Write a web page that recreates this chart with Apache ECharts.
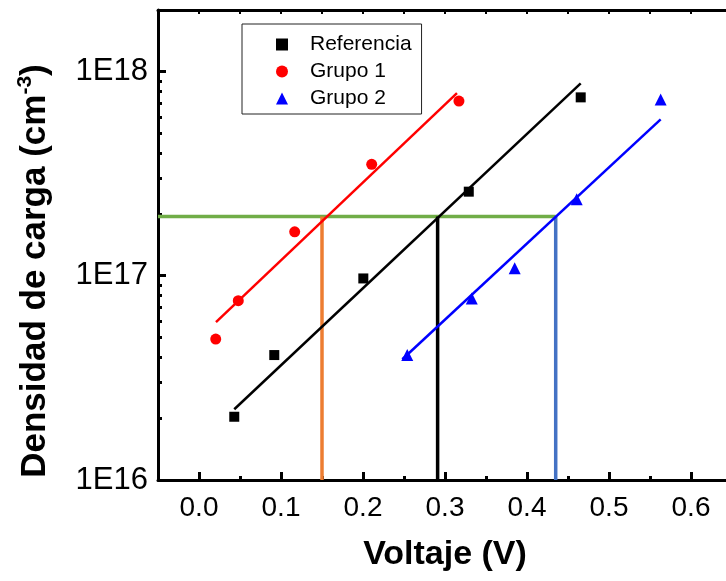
<!DOCTYPE html>
<html>
<head>
<meta charset="utf-8">
<script src="https://cdn.jsdelivr.net/npm/echarts@6/dist/echarts.min.js"></script>
<style>
  html, body { margin: 0; padding: 0; background: #fff; }
  #chart { width: 726px; height: 581px; }
</style>
</head>
<body>
<div id="chart"></div>
<script>
// datos
const refV = [0.043, 0.0918, 0.2004, 0.329, 0.4655]
const refN = [2.04e16, 4.09e16, 9.7e16, 2.58e17, 7.47e17]
const g1V = [0.0204, 0.0479, 0.1167, 0.2106, 0.317]
const g1N = [4.9e16, 7.55e16, 1.64e17, 3.51e17, 7.16e17]
const g2V = [0.254, 0.3326, 0.385, 0.4606, 0.563]
const g2N = [4.09e16, 7.74e16, 1.087e17, 2.37e17, 7.3e17]

// ajustes lineales (extremos)
const fitRefV = [0.043, 0.4655]
const fitRefN = [2.22e16, 8.75e17]
const fitG1V = [0.0207, 0.3146]
const fitG1N = [5.93e16, 7.83e17]
const fitG2V = [0.248, 0.563]
const fitG2N = [3.9e16, 5.83e17]

// nivel de referencia y voltajes de corte
const nivel = 1.95e17
const corteV = [0.15, 0.291, 0.435]
const corteColor = ['#ED7D31', '#000000', '#4472C4']

const xMajor = [0, 0.1, 0.2, 0.3, 0.4, 0.5, 0.6]
const xMinor = [0.05, 0.15, 0.25, 0.35, 0.45, 0.55, 0.65]
const xTop = [0, 0.05, 0.1, 0.15, 0.2, 0.25, 0.3, 0.35, 0.4, 0.45, 0.5, 0.55, 0.6]
const yMajor = [1e16, 1e17, 1e18]
const yMinor = [2e16, 3e16, 4e16, 5e16, 6e16, 7e16, 8e16, 9e16,
  2e17, 3e17, 4e17, 5e17, 6e17, 7e17, 8e17, 9e17]

const font = 'Liberation Sans, Arial, sans-serif'
const zip = (a, b) => a.map((v, i) => [v, b[i]])

const chart = echarts.init(document.getElementById('chart'), null, { renderer: 'canvas' })

const xBase = { type: 'value', min: -0.05, max: 0.65, splitLine: { show: false } }
const yBase = { type: 'log', logBase: 10, min: 1e16, max: 2e18, splitLine: { show: false } }

const guideSeries = []
guideSeries.push({
  type: 'line', data: [[-0.05, nivel], [corteV[2], nivel]], symbol: 'none',
  lineStyle: { color: '#70AD47', width: 3.5 }, z: 3, silent: true
})
corteV.forEach((v, i) => {
  guideSeries.push({
    type: 'line', data: [[v, 1e16], [v, nivel]], symbol: 'none',
    lineStyle: { color: corteColor[i], width: 3.5 }, z: 3, silent: true
  })
})

chart.setOption({
  animation: false,
  backgroundColor: '#fff',
  grid: { left: 158, top: 10, right: -6, bottom: 101, containLabel: false, outerBoundsMode: 'none' },
  legend: {
    orient: 'vertical', left: 242, top: 24,
    padding: [10, 10, 5, 34], itemGap: 6, itemWidth: 12, itemHeight: 12,
    borderColor: '#222', borderWidth: 1, borderRadius: 0,
    textStyle: { fontFamily: font, fontSize: 21, color: '#000', padding: [0, 0, 0, 17] },
    data: [
      { name: 'Referencia', icon: 'rect' },
      { name: 'Grupo 1', icon: 'circle' },
      { name: 'Grupo 2', icon: 'triangle' }
    ]
  },
  xAxis: [
    Object.assign({}, xBase, {
      position: 'bottom',
      name: 'Voltaje (V)', nameLocation: 'middle', nameGap: 58,
      nameTextStyle: { fontFamily: font, fontSize: 34, fontWeight: 'bold', color: '#000' },
      axisLine: { show: true, onZero: false, lineStyle: { color: '#000', width: 3 } },
      axisTick: { show: true, inside: true, length: 8, lineStyle: { color: '#000', width: 3 }, customValues: xMajor },
      axisLabel: { fontFamily: font, fontSize: 28, color: '#000', margin: 14, customValues: xMajor,
        formatter: v => v.toFixed(1) }
    }),
    Object.assign({}, xBase, {
      position: 'bottom',
      axisLine: { show: false, onZero: false },
      axisTick: { show: true, inside: true, length: 4, lineStyle: { color: '#000', width: 3 }, customValues: xMinor },
      axisLabel: { show: false }
    }),
    Object.assign({}, xBase, {
      position: 'top',
      axisLine: { show: true, onZero: false, lineStyle: { color: '#000', width: 3 } },
      axisTick: { show: true, inside: true, length: 4, lineStyle: { color: '#000', width: 2 }, customValues: xTop },
      axisLabel: { show: false }
    })
  ],
  yAxis: [
    Object.assign({}, yBase, {
      position: 'left',
      name: 'Densidad de carga (cm{sup|-3})', nameLocation: 'middle', nameGap: 103,
      nameTextStyle: {
        fontFamily: font, fontSize: 35, fontWeight: 'bold', color: '#000', padding: [0, 52, 0, 0],
        rich: { sup: { fontFamily: font, fontSize: 21, fontWeight: 'bold', color: '#000', verticalAlign: 'top', lineHeight: 40 } }
      },
      axisLine: { show: true, onZero: false, lineStyle: { color: '#000', width: 3 } },
      axisTick: { show: true, inside: true, length: 8, lineStyle: { color: '#000', width: 3 }, customValues: yMajor },
      axisLabel: { fontFamily: font, fontSize: 31, color: '#000', margin: 10, customValues: yMajor,
        formatter: v => '1E' + Math.round(Math.log10(v)) }
    }),
    Object.assign({}, yBase, {
      position: 'left',
      axisLine: { show: false, onZero: false },
      axisTick: { show: true, inside: true, length: 4, lineStyle: { color: '#000', width: 3 }, customValues: yMinor },
      axisLabel: { show: false }
    })
  ],
  series: guideSeries.concat([
    { type: 'line', data: zip(fitRefV, fitRefN), symbol: 'none', lineStyle: { color: '#000', width: 2.5 }, z: 4, silent: true },
    { type: 'line', data: zip(fitG1V, fitG1N), symbol: 'none', lineStyle: { color: '#FF0000', width: 2.5 }, z: 4, silent: true },
    { type: 'line', data: zip(fitG2V, fitG2N), symbol: 'none', lineStyle: { color: '#0000FF', width: 2.5 }, z: 4, silent: true },
    { name: 'Referencia', type: 'scatter', data: zip(refV, refN), symbol: 'rect', symbolSize: 10,
      itemStyle: { color: '#000', opacity: 1 }, z: 5 },
    { name: 'Grupo 1', type: 'scatter', data: zip(g1V, g1N), symbol: 'circle', symbolSize: 11,
      itemStyle: { color: '#FF0000', opacity: 1 }, z: 5 },
    { name: 'Grupo 2', type: 'scatter', data: zip(g2V, g2N), symbol: 'triangle', symbolSize: 12,
      itemStyle: { color: '#0000FF', opacity: 1 }, z: 5 }
  ])
})
</script>
</body>
</html>
